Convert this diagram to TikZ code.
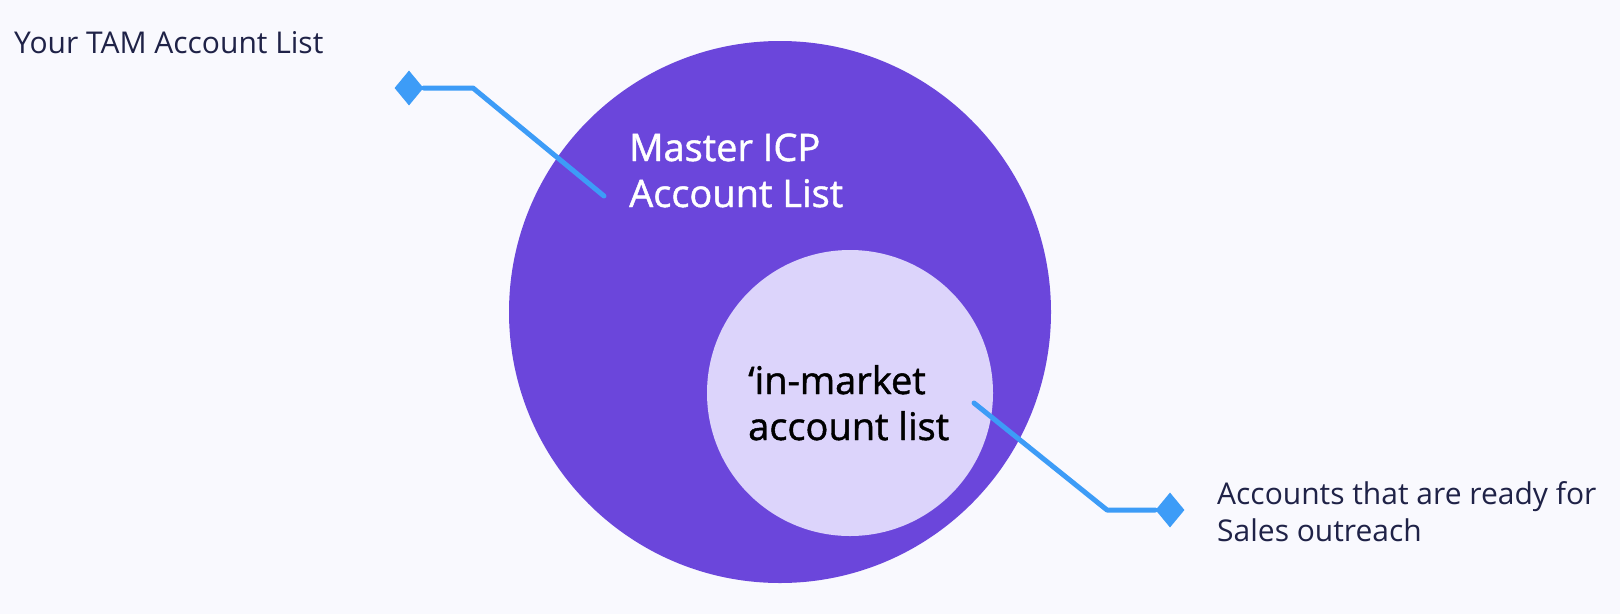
\documentclass[tikz,border=0pt]{standalone}
\usepackage{fontspec}
\setmainfont{Open Sans}
\newfontfamily\listfont[FakeBold=1.2, Ligatures=TeX]{Open Sans}
\usetikzlibrary{shapes.geometric}
\definecolor{bgpage}{HTML}{F9F9FE}
\definecolor{icppurple}{HTML}{6B46DB}
\definecolor{marketlilac}{HTML}{DCD4FB}
\definecolor{calloutblue}{HTML}{3D9CF7}
\definecolor{labelnavy}{HTML}{1F2247}
\begin{document}
\begin{tikzpicture}[x=1pt, y=-1pt,
        callout/.style={draw=calloutblue, line width=5pt, line join=round, line cap=round},
        marker/.style={diamond, fill=calloutblue, inner sep=0pt, minimum width=29pt, minimum height=35pt},
        sidelabel/.style={anchor=base west, inner sep=0pt, text=labelnavy, align=left, font=\fontsize{30}{37}\selectfont},
        circlelabel/.style={anchor=base west, inner sep=0pt, align=left, font=\listfont\fontsize{38}{46}\selectfont}]
    \fill[bgpage] (0,0) rectangle (1620,614);
    \useasboundingbox (0,0) rectangle (1620,614);
    % the two lists
    \fill[icppurple] (780,312) circle (271);
    \fill[marketlilac] (850,393) circle (143);
    \node[circlelabel, text=white] (icplabel) at (629,207) {Master ICP\\Account List};
    \node[circlelabel, text=black] (marketlabel) at (748,440) {‘in-market\\account list};
    % callouts
    \node[sidelabel] (tamlabel) at (14,53) {Your TAM Account List};
    \node[marker] (tammark) at (409,88) {};
    \coordinate (tambend) at (473,88);
    \coordinate (tamtip) at (604,196);
    \draw[callout] (tammark) -- (tambend) -- (tamtip);
    \node[marker] (salesmark) at (1170,510) {};
    \coordinate (salesbend) at (1107,510);
    \coordinate (salestip) at (974,403);
    \draw[callout] (salestip) -- (salesbend) -- (salesmark);
    \node[sidelabel] (saleslabel) at (1217,541) {Accounts that are ready for\\Sales outreach};
\end{tikzpicture}
\end{document}
